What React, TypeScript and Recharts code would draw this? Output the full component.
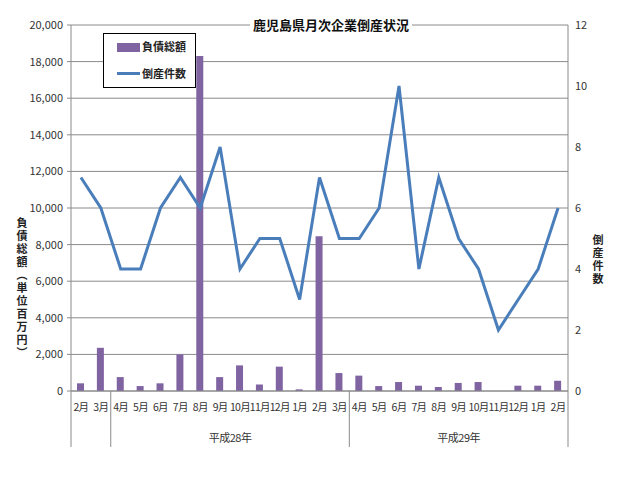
import { ComposedChart, Bar, Line, XAxis, YAxis, CartesianGrid } from "recharts";

const months = [
  "2月", "3月",
  "4月", "5月", "6月", "7月", "8月", "9月", "10月", "11月", "12月", "1月", "2月", "3月",
  "4月", "5月", "6月", "7月", "8月", "9月", "10月", "11月", "12月", "1月", "2月",
];

// 負債総額 (百万円)
const debt = [
  420, 2360,
  760, 270, 420, 2000, 18300, 760, 1400, 360, 1330, 90, 8450, 980,
  840, 270, 490, 290, 220, 440, 490, 0, 290, 290, 560,
];

// 倒産件数
const counts = [
  7, 6,
  4, 4, 6, 7, 6, 8, 4, 5, 5, 3, 7, 5,
  5, 6, 10, 4, 7, 5, 4, 2, 3, 4, 6,
];

const groups = [
  { label: "", start: 0, count: 2 },
  { label: "平成28年", start: 2, count: 12 },
  { label: "平成29年", start: 14, count: 11 },
];

const leftTicks = [0, 2000, 4000, 6000, 8000, 10000, 12000, 14000, 16000, 18000, 20000];
const rightTicks = [0, 2, 4, 6, 8, 10, 12];

const data = months.map((m, i) => ({ id: i, month: m, debt: debt[i], count: counts[i] }));

const GRID = "#8a8a8a";
const TEXT = "#333";
const NUM_FONT = '"Liberation Sans Narrow", "Noto Sans CJK JP", sans-serif';
const CJK_FONT = '"Noto Sans CJK JP", sans-serif';

function MonthTick(props: any) {
  const { x, y, payload } = props;
  const i = payload.index;
  const half = payload.offset ?? 10;
  const g = groups.find((gr) => gr.start === i);
  const last = i === months.length - 1;
  return (
    <g>
      <text
        x={x}
        y={y + 20}
        textAnchor="middle"
        fill={TEXT}
        fontSize={10.5}
        letterSpacing={-0.7}
        fontFamily={NUM_FONT}
      >
        {months[i]}
      </text>
      {g && <line x1={x - half} x2={x - half} y1={y} y2={y + 56} stroke={GRID} />}
      {g && g.label && (
        <text
          x={x - half + g.count * half}
          y={y + 51}
          textAnchor="middle"
          fill={TEXT}
          fontSize={11}
          letterSpacing={-0.5}
          fontFamily={NUM_FONT}
        >
          {g.label}
        </text>
      )}
      {last && <line x1={x + half} x2={x + half} y1={y} y2={y + 56} stroke={GRID} />}
    </g>
  );
}

function VerticalLabel({ text, x, y }: { text: string; x: number; y: number }) {
  return (
    <text
      x={x}
      y={y}
      textAnchor="middle"
      fill="#222"
      fontSize={11}
      fontWeight="bold"
      fontFamily={CJK_FONT}
      letterSpacing={2}
      style={{ writingMode: "vertical-rl" }}
    >
      {text}
    </text>
  );
}

function LegendBox() {
  return (
    <div
      style={{
        position: "absolute",
        left: 103,
        top: 33,
        width: 91,
        height: 53,
        border: "1px solid #000",
        background: "#fff",
        fontFamily: CJK_FONT,
        fontSize: 11,
        fontWeight: "bold",
        color: "#222",
      }}
    >
      <div style={{ position: "absolute", left: 13, top: 9, width: 23, height: 9, background: "#8064A2" }} />
      <div style={{ position: "absolute", left: 38, top: 5, lineHeight: "14px" }}>負債総額</div>
      <div style={{ position: "absolute", left: 13, top: 38, width: 23, height: 3, background: "#4A7EBB" }} />
      <div style={{ position: "absolute", left: 38, top: 32, lineHeight: "14px" }}>倒産件数</div>
    </div>
  );
}

export default function App() {
  return (
    <div style={{ position: "absolute", left: 0, top: 0, width: 640, height: 495, background: "#fff" }}>
      <ComposedChart
        width={640}
        height={495}
        data={data}
        margin={{ top: 25, right: 32, bottom: 44, left: 0 }}
      >
        <CartesianGrid yAxisId="left" vertical={false} stroke={GRID} />
        <XAxis
          dataKey="id"
          interval={0}
          tick={<MonthTick />}
          tickLine={false}
          tickSize={0}
          tickMargin={0}
          axisLine={{ stroke: GRID }}
          height={60}
        />
        <YAxis
          yAxisId="left"
          width={71}
          domain={[0, 20000]}
          ticks={leftTicks}
          tickFormatter={(v: number) => v.toLocaleString("en-US")}
          tick={{ fill: TEXT, fontSize: 11, fontFamily: NUM_FONT }}
          tickSize={4}
          tickMargin={4}
          tickLine={{ stroke: GRID }}
          axisLine={{ stroke: GRID }}
          label={() => <VerticalLabel text="負債総額（単位百万円）" x={22} y={289} />}
        />
        <YAxis
          yAxisId="right"
          orientation="right"
          width={40}
          domain={[0, 12]}
          ticks={rightTicks}
          tick={{ fill: TEXT, fontSize: 11, fontFamily: NUM_FONT, textAnchor: "start" }}
          tickSize={5}
          tickMargin={2}
          tickLine={false}
          axisLine={{ stroke: GRID }}
          label={() => <VerticalLabel text="倒産件数" x={598} y={260} />}
        />
        <Bar yAxisId="left" dataKey="debt" name="負債総額" fill="#8064A2" barSize={7} isAnimationActive={false} />
        <Line
          yAxisId="right"
          type="linear"
          dataKey="count"
          name="倒産件数"
          stroke="#4A7EBB"
          strokeWidth={3}
          dot={false}
          isAnimationActive={false}
        />
      </ComposedChart>
      <LegendBox />
      <div
        style={{
          position: "absolute",
          left: 250,
          top: 17,
          width: 162,
          textAlign: "center",
          background: "#fff",
          fontFamily: CJK_FONT,
          fontSize: 13,
          fontWeight: "bold",
          lineHeight: "16px",
          color: "#111",
        }}
      >
        鹿児島県月次企業倒産状況
      </div>
    </div>
  );
}
